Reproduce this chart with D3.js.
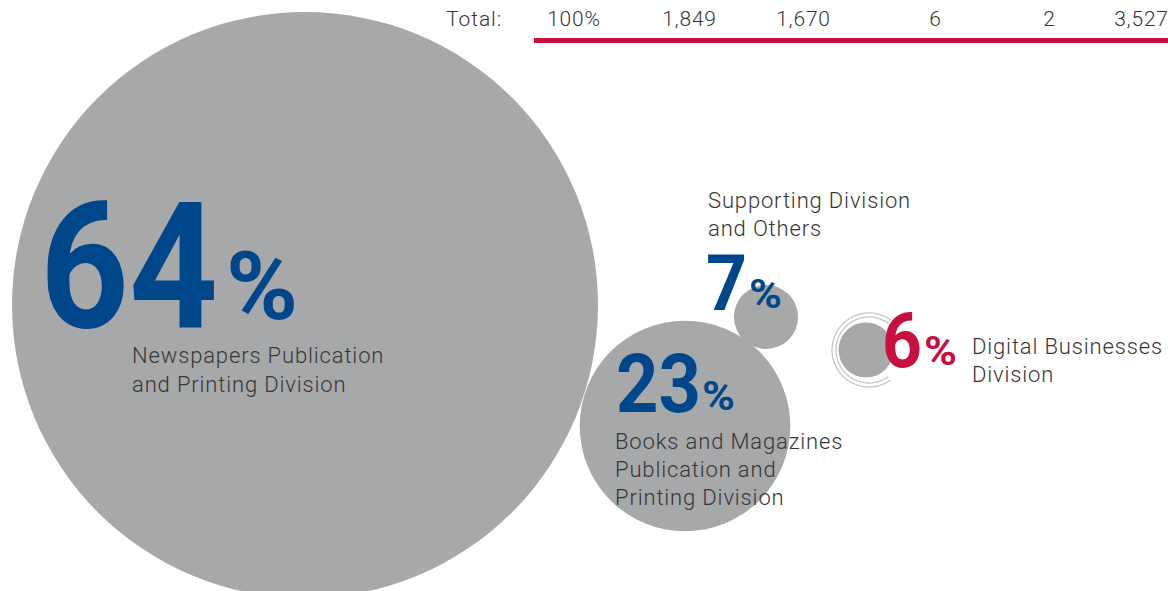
<!DOCTYPE html>
<html>
<head>
<meta charset="utf-8">
<script src="https://cdn.jsdelivr.net/npm/d3@7"></script>
<style>
  html, body { margin: 0; padding: 0; background: #fff; }
  svg { display: block; }
</style>
</head>
<body>
<svg id="chart" width="1168" height="591"></svg>
<script>
// ---- data ----
const divisions = ["Newspapers Publication and Printing Division",
                   "Books and Magazines Publication and Printing Division",
                   "Supporting Division and Others",
                   "Digital Businesses Division"];
const shares = [64, 23, 7, 6];
const labelLines = [["Newspapers Publication", "and Printing Division"],
                    ["Books and Magazines", "Publication and", "Printing Division"],
                    ["Supporting Division", "and Others"],
                    ["Digital Businesses", "Division"]];
const totalLabel = "Total:";
const totalValues = ["100%", "1,849", "1,670", "6", "2", "3,527"];

// ---- layout (positions / styles) ----
const W = 1168, H = 591;
const blue = "#00468b", red = "#c8103e", grey = "#a7a8aa", ink = "#363636";
const FONT = "Roboto, 'Noto Sans', sans-serif";
const layout = [
  {cx: 305, cy: 305, num: {x: 40, y: 327, size: 176, len: 178, color: blue},
   pct: {x: 226, y: 319, size: 94, len: 72}, lab: {x: 132, y: 363, lh: 29}},
  {cx: 685, cy: 426, num: {x: 616, y: 412, size: 82, len: 85, color: blue},
   pct: {x: 702, y: 410, size: 40, len: 33}, lab: {x: 615, y: 449, lh: 28}},
  {cx: 766, cy: 317, num: {x: 706, y: 310, size: 78, len: 41, color: blue},
   pct: {x: 749, y: 308, size: 40, len: 33}, lab: {x: 708, y: 208, lh: 28}},
  {cx: 866, cy: 350, num: {x: 882, y: 367, size: 76, len: 40, color: red},
   pct: {x: 924, y: 365, size: 40, len: 33}, lab: {x: 972, y: 354, lh: 28}, rings: true}
];
const colRight = [600, 716, 830, 941, 1055, 1168];

const svg = d3.select("#chart");

// radius scale: radius proportional to share
const r = d3.scaleLinear().domain([0, 64]).range([0, 293]);

const data = shares.map((v, i) => ({name: divisions[i], value: v, lines: labelLines[i], ...layout[i]}));

// rings around the digital circle
const ringArc = d3.arc().startAngle(Math.PI * 0.8).endAngle(Math.PI * 2.2);
data.filter(d => d.rings).forEach(d => {
  [r(d.value) + 5, r(d.value) + 9].forEach(rr => {
    svg.append("path")
      .attr("d", ringArc.innerRadius(rr).outerRadius(rr + 1.2)())
      .attr("transform", `translate(${d.cx + 3},${d.cy})`)
      .attr("fill", "#c2c3c5");
  });
});

// circles
svg.selectAll("circle.div").data(data).join("circle")
  .attr("class", "div")
  .attr("cx", d => d.cx).attr("cy", d => d.cy)
  .attr("r", d => r(d.value))
  .attr("fill", grey);

// big numbers
const g = svg.selectAll("g.lab").data(data).join("g").attr("class", "lab");
g.append("text")
  .attr("x", d => d.num.x).attr("y", d => d.num.y)
  .attr("font-family", FONT).attr("font-weight", 700)
  .attr("font-size", d => d.num.size)
  .attr("fill", d => d.num.color)
  .attr("textLength", d => d.num.len).attr("lengthAdjust", "spacingAndGlyphs")
  .text(d => d.value);
g.append("text")
  .attr("x", d => d.pct.x).attr("y", d => d.pct.y)
  .attr("font-family", FONT).attr("font-weight", 700)
  .attr("font-size", d => d.pct.size)
  .attr("fill", d => d.num.color)
  .attr("textLength", d => d.pct.len).attr("lengthAdjust", "spacingAndGlyphs")
  .text("%");
g.each(function(d) {
  const t = d3.select(this).append("text")
    .attr("font-family", FONT).attr("font-weight", 300)
    .attr("font-size", 22).attr("letter-spacing", 0.85).attr("fill", ink);
  d.lines.forEach((ln, j) => {
    t.append("tspan").attr("x", d.lab.x).attr("y", d.lab.y + j * d.lab.lh).text(ln);
  });
});

// total row
svg.append("text")
  .attr("x", 502).attr("y", 26)
  .attr("text-anchor", "end")
  .attr("font-family", FONT).attr("font-weight", 300)
  .attr("font-size", 21).attr("letter-spacing", 0.9).attr("fill", ink)
  .text(totalLabel);
svg.selectAll("text.tot").data(totalValues).join("text")
  .attr("class", "tot")
  .attr("x", (d, i) => colRight[i] + 0.8).attr("y", 26)
  .attr("text-anchor", "end")
  .attr("font-family", FONT).attr("font-weight", 300)
  .attr("font-size", 21).attr("letter-spacing", 0.8).attr("fill", ink)
  .text(d => d);
svg.append("rect")
  .attr("x", 534).attr("y", 38).attr("width", W - 534).attr("height", 5)
  .attr("fill", red);
</script>
</body>
</html>
